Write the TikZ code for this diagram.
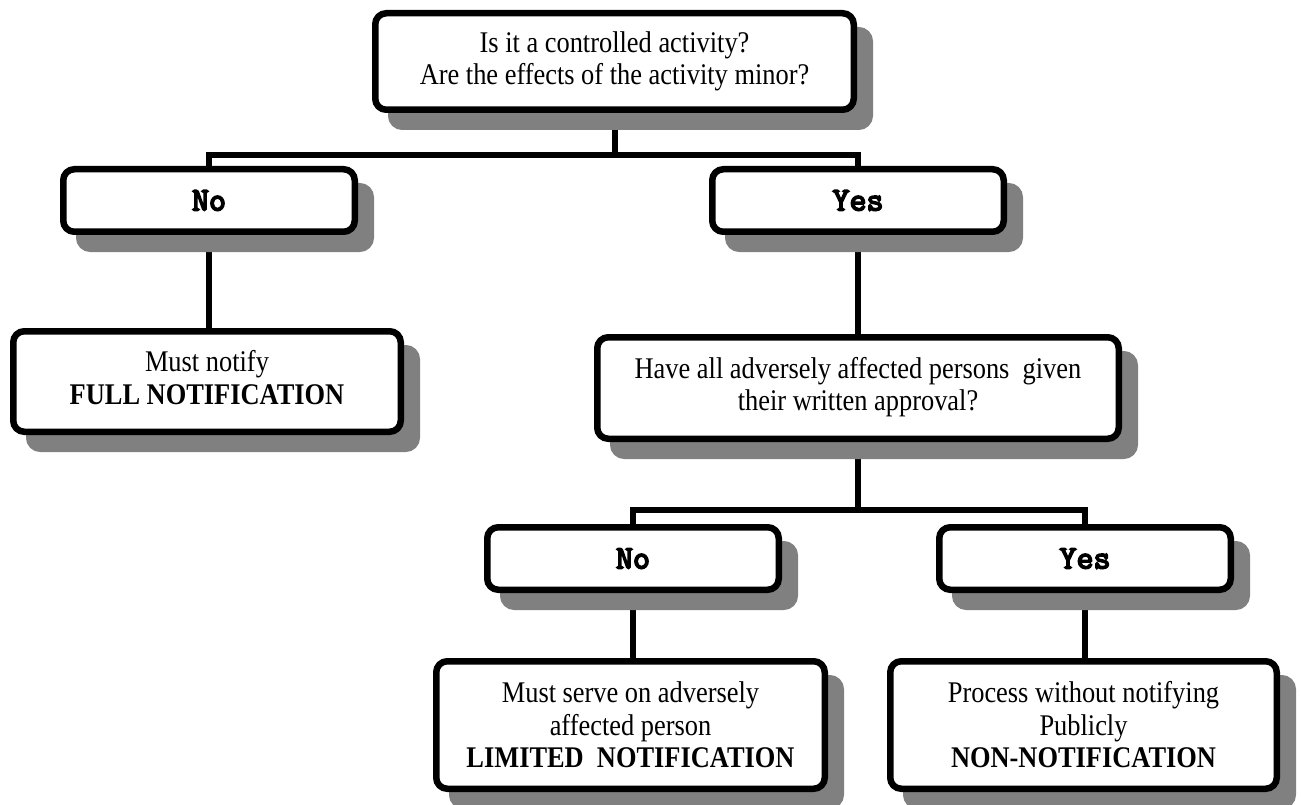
\documentclass[tikz,border=0pt]{standalone}
\usepackage{fontspec}
\setmainfont{Liberation Serif}[FakeStretch=0.88]
\newfontfamily\answerfont{Latin Modern Mono}[FakeBold=5]
\definecolor{shadowgray}{gray}{0.5}
\pgfdeclarelayer{background}
\pgfsetlayers{background,main}
\newcommand{\upstack}[1]{\raisebox{6pt}{\begin{tabular}{@{}c@{}}#1\end{tabular}}}
\begin{document}
\begin{tikzpicture}[x=1pt,y=-1pt,
  box/.style={draw=black, line width=6.5pt, rounded corners=11pt, fill=white,
    inner sep=0pt, align=center, font=\fontsize{30}{32.5}\selectfont,
    preaction={draw=shadowgray, fill=shadowgray, transform canvas={shift={(16pt,-17pt)}}}},
  ans/.style={box, minimum width=291.5pt, minimum height=62.5pt,
    font=\fontsize{33}{33}\selectfont\answerfont},
  conn/.style={line width=6pt, line join=miter, line cap=rect}]
\useasboundingbox (0,0) rectangle (1301,805);

\node[box, minimum width=478.5pt, minimum height=96.5pt] (q) at (614.5,61.5)
  {Is it a controlled activity?\\Are the effects of the activity minor?};
\node[ans] (no1) at (209,200.5) {No};
\node[ans] (yes1) at (858,200.5) {Yes};
\node[box, minimum width=387.5pt, minimum height=100.5pt] (full) at (207,381.5)
  {\upstack{Must notify\\\textbf{FULL NOTIFICATION}}};
\node[box, minimum width=521.5pt, minimum height=101.5pt] (have) at (858,388)
  {\upstack{Have all adversely affected persons~ given\\their written approval?}};
\node[ans] (no2) at (633,558.5) {No};
\node[ans] (yes2) at (1085,558.5) {Yes};
\node[box, minimum width=388.5pt, minimum height=127.5pt] (lim) at (630.5,725)
  {Must serve on adversely\\affected person\\\textbf{LIMITED\ \ NOTIFICATION}};
\node[box, minimum width=386.5pt, minimum height=127.5pt] (non) at (1083.5,725)
  {Process without notifying\\Publicly\\\textbf{NON-NOTIFICATION}};

\coordinate (b1) at (0,155);
\coordinate (b2) at (0,510);

\begin{pgfonlayer}{background}
\draw[conn] (q.south) -- (q.south |- b1);
\draw[conn] (no1.north) -- (no1.north |- b1) -- (yes1.north |- b1) -- (yes1.north);
\draw[conn] (no1.south) -- (no1.south |- full.north);
\draw[conn] (yes1.south) -- (have.north);
\draw[conn] (have.south) -- (have.south |- b2);
\draw[conn] (no2.north) -- (no2.north |- b2) -- (yes2.north |- b2) -- (yes2.north);
\draw[conn] (no2.south) -- (no2.south |- lim.north);
\draw[conn] (yes2.south) -- (yes2.south |- non.north);
\end{pgfonlayer}
\end{tikzpicture}
\end{document}
